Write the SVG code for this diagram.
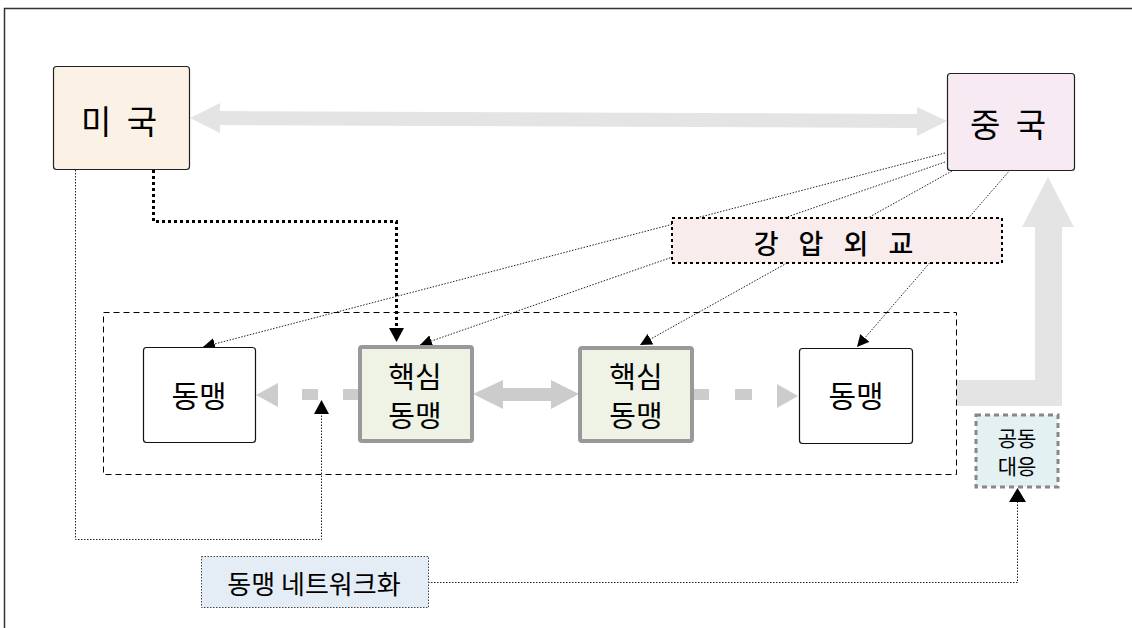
<svg xmlns="http://www.w3.org/2000/svg" width="1132" height="628" viewBox="0 0 1132 628">
<defs>
<style>
text{font-family:"Noto Sans CJK KR","Noto Sans",sans-serif;fill:#000;text-anchor:middle;dominant-baseline:central;font-weight:normal}
.thin{fill:none;stroke:#222;stroke-width:1;stroke-dasharray:1.5 1.5}
.thick{fill:none;stroke:#000;stroke-width:3;stroke-dasharray:3 3}
.gray{fill:#E4E4E4}
.lg{fill:#CCCCCC}
.core{fill:#EEF3E6;stroke:#999;stroke-width:4}
.ally{fill:#fff;stroke:#111;stroke-width:1.2}
</style>
<marker id="ah" viewBox="0 0 10 10" refX="10" refY="5" markerWidth="12" markerHeight="12" markerUnits="userSpaceOnUse" orient="auto"><path d="M0,0 L10,5 L0,10 z" fill="#000"/></marker>
</defs>
<rect width="1132" height="628" fill="#fff"/>
<path d="M4.5,628 V8.5 H1132" fill="none" stroke="#333" stroke-width="1.5"/>

<g id="connectors">
<path class="gray" d="M190,118 L220,103 L220,111 L917,114 L917,107 L947,121 L917,136 L917,128 L220,125 L220,133 z"/>
<line class="thin" x1="945" y1="153" x2="203" y2="347" marker-end="url(#ah)"/>
<line class="thin" x1="945" y1="162" x2="420" y2="345" marker-end="url(#ah)"/>
<line class="thin" x1="952" y1="171" x2="640" y2="345" marker-end="url(#ah)"/>
<line class="thin" x1="1010" y1="170" x2="857" y2="347" marker-end="url(#ah)"/>
<path class="thick" d="M153.5,170 V221.5 H396.5 V330"/>
<path d="M389,328 L404,328 L396.5,342 z" fill="#000"/>
<path class="thin" d="M75.5,170 V539.5 H321.5 V414"/>
<path d="M314,414 L329,414 L321.5,400 z" fill="#000"/>
<path class="thin" d="M428,582.5 H1017.5 V502"/>
<path d="M1009,502 L1026,502 L1017.5,488 z" fill="#000"/>
<path class="lg" d="M473,394 L503,380 L503,388 L551,388 L551,380 L579,394 L551,409 L551,401 L503,401 L503,409 z"/>
<rect class="lg" x="343" y="389" width="17" height="11"/>
<rect class="lg" x="302" y="389" width="16" height="11"/>
<path class="lg" d="M256,395 L278,383 L278,407 z"/>
<rect class="lg" x="694" y="389" width="15" height="11"/>
<rect class="lg" x="735" y="389" width="17" height="11"/>
<path class="lg" d="M798,396 L777,384 L777,408 z"/>
<path class="gray" d="M956,380 H1035 V227 H1022 L1048,177 L1074,227 H1062 V406 H956 z"/>
</g>

<g id="container">
<rect x="103.5" y="312.5" width="853" height="162" fill="none" stroke="#000" stroke-width="1" stroke-dasharray="6 4"/>
</g>

<g id="usa">
<rect x="53.5" y="66.5" width="136" height="103" rx="3" fill="#FBF2E5" stroke="#222" stroke-width="1.2"/>
<text x="121" y="120" font-size="33" letter-spacing="4">미 국</text>
</g>

<g id="china">
<rect x="947.5" y="73.5" width="127" height="97" rx="3" fill="#F7EAF3" stroke="#222" stroke-width="1.2"/>
<text x="1010" y="123" font-size="33" letter-spacing="4">중 국</text>
</g>

<g id="coercion">
<rect x="672" y="218" width="330" height="45" fill="#F8ECEC" stroke="#000" stroke-width="2" stroke-dasharray="3 3"/>
<text x="837" y="242" font-size="27" style="font-weight:500" letter-spacing="7">강 압 외 교</text>
</g>

<g id="ally-left">
<rect class="ally" x="143.5" y="347.5" width="112" height="95" rx="3"/>
<text x="199" y="394" font-size="30">동맹</text>
</g>

<g id="core-left">
<rect class="core" x="360" y="347" width="112" height="94" rx="2"/>
<text x="415" y="375" font-size="29">핵심</text>
<text x="415" y="414" font-size="29">동맹</text>
</g>

<g id="core-right">
<rect class="core" x="580" y="348" width="112" height="93" rx="2"/>
<text x="636" y="375" font-size="29">핵심</text>
<text x="636" y="414" font-size="29">동맹</text>
</g>

<g id="ally-right">
<rect class="ally" x="799.5" y="348.5" width="113" height="95" rx="3"/>
<text x="856" y="394" font-size="30">동맹</text>
</g>

<g id="joint">
<rect x="976" y="415" width="82" height="72" fill="#E3F1F3" stroke="#888" stroke-width="3" stroke-dasharray="5 4"/>
<text x="1017" y="437" font-size="21">공동</text>
<text x="1017" y="465" font-size="21">대응</text>
</g>

<g id="network">
<rect x="201.5" y="556.5" width="227" height="51" fill="#E4ECF6" stroke="#444" stroke-width="1" stroke-dasharray="1.5 1.5"/>
<text x="314" y="582" font-size="26">동맹 네트워크화</text>
</g>
</svg>
